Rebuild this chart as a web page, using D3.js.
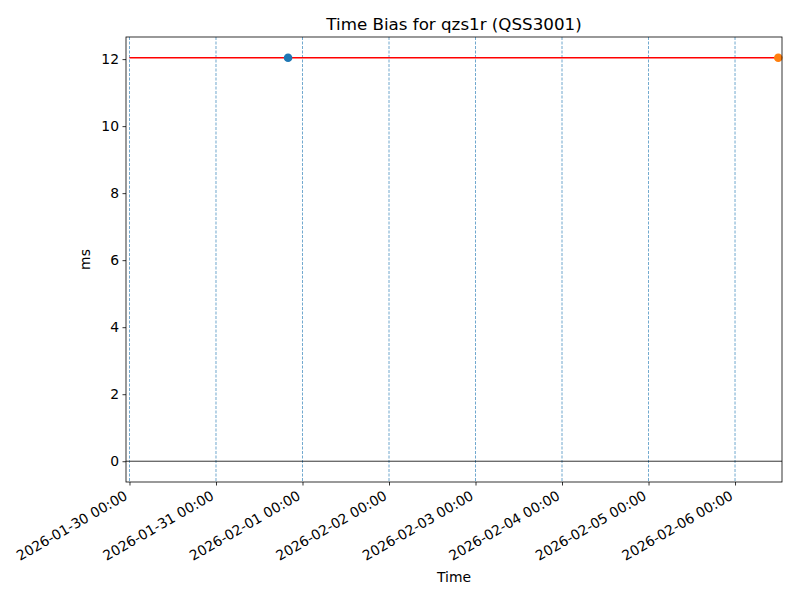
<!DOCTYPE html>
<html><head><meta charset="utf-8">
<script src="https://cdn.jsdelivr.net/npm/d3@7"></script>
<style>body{margin:0;background:#fff}svg,svg text{font-family:"DejaVu Sans",sans-serif}</style>
</head><body>
<svg id="c" width="800" height="600"></svg>
<script>
const title = "Time Bias for qzs1r (QSS3001)";
const xLabel = "Time";
const yLabel = "ms";
const biasLine = [{t:"2026-01-30T00:00", v:12.04},{t:"2026-02-06T12:00", v:12.04}];
const startPoint = [{t:"2026-01-31T20:00", v:12.04}];
const endPoint = [{t:"2026-02-06T12:00", v:12.04}];
const dayLines = ["2026-01-30","2026-01-31","2026-02-01","2026-02-02","2026-02-03","2026-02-04","2026-02-05","2026-02-06"];
const yTicks = [0,2,4,6,8,10,12];
const xDomain = ["2026-01-29T23:02","2026-02-06T13:02"];
const yDomain = [-0.62, 12.66];

const parse = s => new Date(s.length===10 ? s+"T00:00:00Z" : s+":00Z");
const L=126, R=782, T=37, B=482;
const FONT = "DejaVu Sans";
const svg = d3.select("#c");
const x = d3.scaleUtc().domain(xDomain.map(parse)).range([L,R]);
const y = d3.scaleLinear().domain(yDomain).range([B,T]);

const g = svg.append("g");
g.selectAll("line.day").data(dayLines).join("line")
 .attr("x1",d=>x(parse(d))).attr("x2",d=>x(parse(d)))
 .attr("y1",T).attr("y2",B).attr("stroke","#1f77b4").attr("stroke-width",0.8)
 .attr("stroke-dasharray","3,1.5").attr("opacity",0.8);
g.append("line").attr("x1",L).attr("x2",R).attr("y1",y(0)).attr("y2",y(0))
 .attr("stroke","#000").attr("stroke-width",0.8);
g.append("path").datum(biasLine)
 .attr("d",d3.line().x(d=>x(parse(d.t))).y(d=>y(d.v)))
 .attr("stroke","red").attr("stroke-width",1.5).attr("fill","none");
g.selectAll("circle.s").data(startPoint).join("circle")
 .attr("cx",d=>x(parse(d.t))).attr("cy",d=>y(d.v)).attr("r",4.3).attr("fill","#1f77b4");
g.selectAll("circle.e").data(endPoint).join("circle")
 .attr("cx",d=>x(parse(d.t))).attr("cy",d=>y(d.v)).attr("r",4.3).attr("fill","#ff7f0e");

const xa = svg.append("g").attr("transform",`translate(0,${B})`)
 .call(d3.axisBottom(x).tickValues(dayLines.map(parse)).tickSize(3.5).tickPadding(3.5)
   .tickFormat(d3.utcFormat("%Y-%m-%d %H:%M")));
xa.attr("font-family",FONT).attr("font-size",13.9);
xa.select(".domain").remove();
xa.selectAll("text").attr("fill","#000").attr("font-family",FONT).attr("font-size",13.9)
 .attr("text-anchor","end").attr("x",0).attr("y",0).attr("dy",null)
 .attr("transform","translate(-1.5,16.5) rotate(-30)");
xa.selectAll("line").attr("stroke","#000").attr("stroke-width",0.8);

const ya = svg.append("g").attr("transform",`translate(${L},0)`)
 .call(d3.axisLeft(y).tickValues(yTicks).tickSize(3.5).tickPadding(3.5));
ya.attr("font-family",FONT).attr("font-size",13.9);
ya.select(".domain").remove();
ya.selectAll("text").attr("fill","#000").attr("font-family",FONT).attr("font-size",13.9);
ya.selectAll("line").attr("stroke","#000").attr("stroke-width",0.8);

svg.append("rect").attr("x",L).attr("y",T).attr("width",R-L).attr("height",B-T)
 .attr("fill","none").attr("stroke","#000").attr("stroke-width",0.8);

svg.append("text").attr("x",(L+R)/2).attr("y",T-7).attr("text-anchor","middle")
 .attr("font-size",16.7).text(title);
svg.append("text").attr("x",(L+R)/2).attr("y",582).attr("text-anchor","middle")
 .attr("font-size",13.9).text(xLabel);
svg.append("text").attr("transform",`translate(90,${(T+B)/2}) rotate(-90)`)
 .attr("text-anchor","middle").attr("font-size",13.9).text(yLabel);
</script>
</body></html>
